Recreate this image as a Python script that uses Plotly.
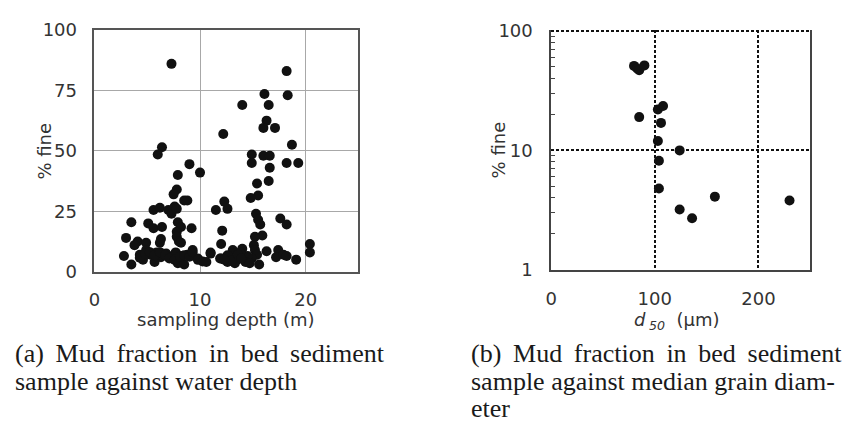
import plotly.graph_objects as go

# ---------------- data: panel (a) sampling depth (m) vs % fine ----------------
depth_m = [7.3, 18.2, 18.3, 16.1, 16.5, 14.0, 12.2, 16.3, 16.0, 17.1, 18.7, 14.9, 14.9, 16.0,
           16.6, 16.6, 18.2, 19.3, 16.5, 15.4, 15.5, 14.8, 6.4, 6.0, 9.0, 10.0, 7.9, 7.8, 7.5,
           8.5, 8.8, 12.3, 12.6, 11.5, 5.6, 6.2, 7.0, 7.3, 7.6, 7.8, 3.5, 5.1, 5.6, 6.4, 7.9,
           8.2, 9.2, 7.8, 7.8, 8.0, 8.2, 6.3, 6.2, 3.0, 4.1, 3.8, 4.9, 12.1, 12.0, 15.3, 15.5,
           15.7, 15.9, 15.2, 17.6, 18.2, 20.4, 20.4, 19.1, 17.4, 17.2, 17.9, 18.2, 16.3, 15.1,
           15.2, 15.4, 15.6, 14.9, 14.5, 14.0, 13.8, 13.5, 13.1, 12.8, 13.3, 12.6, 11.9, 11.0,
           10.6, 9.8, 9.3, 8.8, 8.2, 7.9, 7.6, 6.8, 6.3, 5.9, 5.7, 5.3, 4.6, 4.3, 3.5, 2.8, 4.9,
           7.3, 8.5, 7.7, 4.3, 4.8, 5.25, 5.7, 6.2, 6.7, 7.1, 7.6, 8.1, 8.5, 9.0, 9.3, 9.8,
           10.25, 11.0, 12.0, 12.6, 13.0, 13.6, 14.3, 14.7, 12.3, 13.9]
fine_a = [86, 83, 73, 73.5, 69, 69, 57, 62.5, 59.5, 59.5, 52.5, 48.5, 45, 48,
          48, 43, 45, 45, 37.5, 36.5, 31.5, 30.5, 51.5, 48.5, 44.5, 41, 40, 34, 32,
          29.5, 29.5, 29, 26, 25.5, 25.5, 26.5, 25.5, 24, 27, 26, 20.5, 20, 18, 18.5, 20.5,
          18.5, 18, 16.5, 14.5, 12.5, 12, 13.5, 12, 14, 12.5, 11, 12, 17, 11.5, 24, 21.5,
          19.5, 15, 14.5, 22, 19.5, 11.5, 8, 5, 9, 6, 7, 6.5, 8.5, 11,
          9, 7, 3, 5.5, 6.5, 9.5, 8, 5, 9, 6, 3.5, 4, 5.5, 7.5,
          4, 5.5, 9, 7, 6.5, 3.5, 7, 7.5, 6, 8, 4, 7, 5, 7, 3, 6.5, 9,
          6, 3, 8, 5.8, 7.5, 8.1, 6.8, 8.1, 6.8, 5.5, 4.9, 6.2, 6.8, 6.2, 8.1, 4.9,
          4.2, 7.9, 5.5, 6.8, 4.5, 7, 4, 3.5, 5, 5.5]

# ---------------- data: panel (b) d50 (um) vs % fine ----------------
d50_um = [80, 83, 85, 90, 85, 103, 108, 106, 103, 124, 104, 104, 158, 124, 136, 230]
fine_b = [51, 48.5, 47, 51.5, 19, 22, 23.5, 17, 12, 10, 8.2, 4.8, 4.1, 3.2, 2.7, 3.8]

W, H = 845, 433
TICK_FONT = dict(family="DejaVu Sans", size=18, color="#333333")
CAP_FONT = dict(family="Liberation Serif", size=26, color="#1a1a1a")


def px_x(p):
    return p / W


def px_y(p):
    return 1 - p / H


fig = go.Figure()
fig.add_trace(go.Scatter(x=depth_m, y=fine_a, mode="markers",
                         marker=dict(size=10, color="#111111"),
                         xaxis="x", yaxis="y", hoverinfo="x+y"))
fig.add_trace(go.Scatter(x=d50_um, y=fine_b, mode="markers",
                         marker=dict(size=10, color="#111111"),
                         xaxis="x2", yaxis="y2", hoverinfo="x+y"))

minor_vals = [2, 3, 4, 5, 6, 7, 8, 9, 20, 30, 40, 50, 60, 70, 80, 90]

fig.update_layout(
    width=W, height=H,
    margin=dict(l=0, r=0, t=0, b=0),
    paper_bgcolor="white", plot_bgcolor="white",
    showlegend=False,
    xaxis=dict(domain=[px_x(89), px_x(355)], range=[0, 25], tickvals=[0, 10, 20],
               showgrid=True, gridcolor="#a8a8a8", gridwidth=1, zeroline=False,
               showline=True, linecolor="#555555", linewidth=1.5, mirror=True,
               ticks="", tickfont=TICK_FONT, ticklabelstandoff=11, anchor="y"),
    yaxis=dict(domain=[px_y(274), px_y(20)], range=[0, 100], tickvals=[0, 25, 50, 75, 100],
               showgrid=True, gridcolor="#a8a8a8", gridwidth=1, zeroline=False,
               showline=True, linecolor="#555555", linewidth=1.5, mirror=True,
               ticks="", tickfont=TICK_FONT, ticklabelstandoff=12, anchor="x"),
    xaxis2=dict(domain=[px_x(549), px_x(810)], range=[0, 250], tickvals=[0, 100, 200],
                showgrid=True, gridcolor="#111111", gridwidth=2, griddash="3px,2px",
                zeroline=False, showline=True, linecolor="#444444", linewidth=1.5,
                mirror=False, ticks="", tickfont=TICK_FONT, ticklabelstandoff=12,
                anchor="y2"),
    yaxis2=dict(type="log", domain=[px_y(272), px_y(19.5)], range=[0, 2.012],
                tickvals=[1, 10, 100], ticktext=["1", "10", "100"],
                showgrid=True, gridcolor="#111111", gridwidth=2, griddash="3px,2px",
                zeroline=False, showline=True, linecolor="#444444", linewidth=1.5,
                mirror=True, ticks="", tickfont=TICK_FONT, ticklabelstandoff=13,
                minor=dict(tickvals=minor_vals, ticks="inside", ticklen=4,
                           tickcolor="#444444", tickwidth=1, showgrid=False),
                anchor="x2"),
)

ann = []
# axis titles
ann.append(dict(text="% fine", x=px_x(39), y=px_y(147), textangle=-90))
ann.append(dict(text="% fine", x=px_x(496), y=px_y(146), textangle=-90))
ann.append(dict(text="sampling depth (m)", x=px_x(222), y=px_y(324)))
ann.append(dict(text="<i>d</i>\u2009<sub><i>50</i></sub>\u00a0\u00a0(\u03bcm)", x=px_x(676), y=px_y(326)))
for a in ann:
    a.update(xref="paper", yref="paper", showarrow=False, xanchor="center",
             yanchor="middle", font=TICK_FONT)

J = " \u2009"  # justified (stretched) inter-word spacing
captions = [
    ("(a)" + J + "Mud" + J + "fraction" + J + "in" + J + "bed" + J + "sediment", 7, 360),
    ("sample against water depth", 7, 389),
    ("(b)" + J + "Mud" + J + "fraction" + J + "in" + J + "bed" + J + "sediment", 466, 360),
    ("sample against median grain diam-", 466, 389),
    ("eter", 466, 418),
]
for txt, xp, yp in captions:
    ann.append(dict(text=txt, x=px_x(xp), y=px_y(yp), xref="paper", yref="paper",
                    showarrow=False, xanchor="left", yanchor="middle", font=CAP_FONT))

fig.update_layout(annotations=ann)
fig.write_html("out.html")
